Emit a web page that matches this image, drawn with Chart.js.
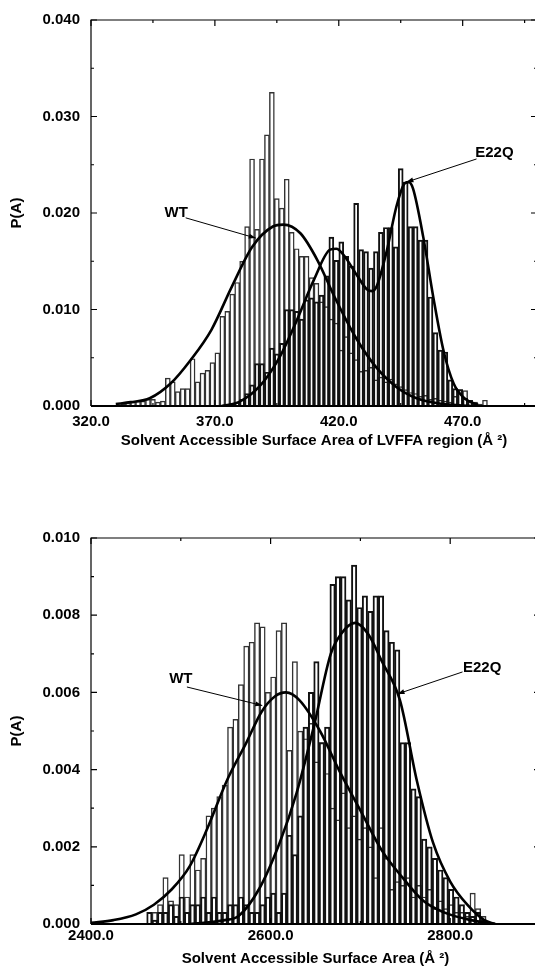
<!DOCTYPE html>
<html>
<head>
<meta charset="utf-8">
<title>SASA distributions, WT vs E22Q</title>
<script src="https://cdn.jsdelivr.net/npm/chart.js@4.4.1/dist/chart.umd.min.js"></script>
<style>
  html, body { margin: 0; padding: 0; background: #fff; width: 535px; height: 967px; overflow: hidden; position: relative; }
  canvas { position: absolute; left: 0; }
  #sasaTop { top: 0; }
  #sasaBottom { top: 518px; }
</style>
</head>
<body>
<canvas id="sasaTop" width="545" height="452"></canvas>
<canvas id="sasaBottom" width="545" height="450"></canvas>
<script>
// ---- top panel: SASA of the LVFFA region (2 A bins) ----
const binsTop = [329, 331, 333, 335, 337, 339, 341, 343, 345, 347, 349, 351, 353, 355, 357, 359, 361, 363, 365, 367,
  369, 371, 373, 375, 377, 379, 381, 383, 385, 387, 389, 391, 393, 395, 397, 399, 401, 403, 405, 407,
  409, 411, 413, 415, 417, 419, 421, 423, 425, 427, 429, 431, 433, 435, 437, 439, 441, 443, 445, 447,
  449, 451, 453, 455, 457, 459, 461, 463, 465, 467, 469, 471, 473, 475, 477, 479, 481];
const wtTop = [0, 0.0001, 0.0002, 0.0003, 0.0004, 0.0005, 0.0005, 0.0007, 0.0007, 0.0004, 0.0005, 0.0029, 0.0025, 0.0015, 0.0018, 0.0018, 0.0049, 0.0025, 0.0034, 0.0037,
  0.0045, 0.0055, 0.0093, 0.0098, 0.0116, 0.0128, 0.0150, 0.0186, 0.0256, 0.0183, 0.0256, 0.0281, 0.0325, 0.0215, 0.0205, 0.0235, 0.0180, 0.0163, 0.0155, 0.0155,
  0.0133, 0.0127, 0.0108, 0.0103, 0.0090, 0.0086, 0.0058, 0.0072, 0.0055, 0.0048, 0.0036, 0.0037, 0.0040, 0.0027, 0.0030, 0.0025, 0.0028, 0.0023, 0.0020, 0.0017,
  0.0014, 0.0013, 0.0010, 0.0011, 0.0007, 0.0008, 0.0006, 0.0005, 0.0004, 0.0010, 0.0017, 0.0016, 0.0006, 0.0004, 0.0002, 0.0006, 0];
const e22qTop = [0, 0, 0, 0, 0, 0, 0, 0, 0, 0, 0, 0, 0, 0, 0, 0, 0, 0, 0, 0,
  0, 0, 0, 0.0001, 0.0003, 0.0004, 0.0007, 0.0013, 0.0022, 0.0044, 0.0044, 0.0035, 0.0060, 0.0054, 0.0065, 0.0100, 0.0100, 0.0098, 0.0090, 0.0110,
  0.0112, 0.0108, 0.0115, 0.0135, 0.0175, 0.0151, 0.0170, 0.0155, 0.0145, 0.0210, 0.0162, 0.0160, 0.0143, 0.0160, 0.0180, 0.0185, 0.0185, 0.0165, 0.0246, 0.0232,
  0.0186, 0.0186, 0.0172, 0.0172, 0.0113, 0.0076, 0.0058, 0.0056, 0.0027, 0.0018, 0.0017, 0.0008, 0.0006, 0.0003, 0.0001, 0, 0];
// fitted curves as [A, P]
const wtFitTop = [[330, 0.0002], [336, 0.0004], [343.7, 0.0008], [352, 0.0023], [360.3, 0.0048], [368.6, 0.0079], [376.9, 0.0124],
  [385.1, 0.0165], [393.4, 0.0186], [397.6, 0.0188], [404.5, 0.0179], [411.4, 0.0151], [418.3, 0.0113], [426.6, 0.0072],
  [434.8, 0.0041], [443.1, 0.0020], [451.4, 0.0008], [462.4, 0.0002], [473.5, 0]];
const e22qFitTop = [[372.7, 0], [379.6, 0.0004], [387.9, 0.0020], [396.2, 0.0051], [403.1, 0.0089], [410, 0.0131], [416.5, 0.0162],
  [419, 0.0163], [421.8, 0.0157], [427.2, 0.0136], [431.3, 0.0121], [433.5, 0.0119], [435.3, 0.0124], [439.3, 0.0160],
  [443.4, 0.0208], [446.7, 0.0231], [448.3, 0.0232], [450, 0.0225], [454.1, 0.0175], [458.2, 0.0112], [462.3, 0.0057],
  [466.4, 0.0023], [470.7, 0.0008], [476.2, 0.0001]];
const xMajorTop = [320, 370, 420, 470];
const xMinorTop = [345, 395, 445, 495];
const yMajorTop = [0, 0.01, 0.02, 0.03, 0.04];
const yMinorTop = [0.005, 0.015, 0.025, 0.035];

// ---- bottom panel: total SASA (6 A bins) ----
const binsBot = [2465, 2471, 2477, 2483, 2489, 2495, 2501, 2507, 2513, 2519, 2525, 2531, 2537, 2543, 2549, 2555,
  2561, 2567, 2573, 2579, 2585, 2591, 2597, 2603, 2609, 2615, 2621, 2627, 2633, 2639, 2645, 2651,
  2657, 2663, 2669, 2675, 2681, 2687, 2693, 2699, 2705, 2711, 2717, 2723, 2729, 2735, 2741, 2747,
  2753, 2759, 2765, 2771, 2777, 2783, 2789, 2795, 2801, 2807, 2813, 2819, 2825, 2831, 2837, 2843];
const wtBot = [0, 0.0003, 0.0005, 0.0012, 0.0006, 0.0005, 0.0018, 0.0007, 0.0018, 0.0014, 0.0017, 0.0028, 0.0030, 0.0033, 0.0036, 0.0051,
  0.0053, 0.0062, 0.0072, 0.0073, 0.0078, 0.0077, 0.0060, 0.0064, 0.0076, 0.0078, 0.0045, 0.0068, 0.0050, 0.0048, 0.0052, 0.0042,
  0.0047, 0.0039, 0.0030, 0.0027, 0.0034, 0.0025, 0.0028, 0.0022, 0.0025, 0.0020, 0.0012, 0.0025, 0.0017, 0.0009, 0.0011, 0.0010,
  0.0012, 0.0007, 0.0010, 0.0007, 0.0009, 0.0004, 0.0006, 0.0004, 0.0005, 0.0003, 0.0003, 0.0002, 0.0008, 0.0004, 0.0002, 0];
const e22qBot = [0.0003, 0.0001, 0.0003, 0.0003, 0.0005, 0.0002, 0.0007, 0.0003, 0.0005, 0.0005, 0.0007, 0.0003, 0.0007, 0.0003, 0.0003, 0.0005,
  0.0005, 0.0007, 0.0005, 0.0003, 0.0003, 0.0005, 0.0007, 0.0008, 0.0003, 0.0008, 0.0023, 0.0018, 0.0028, 0.0051, 0.0060, 0.0068,
  0.0047, 0.0051, 0.0088, 0.0090, 0.0090, 0.0084, 0.0093, 0.0082, 0.0085, 0.0081, 0.0085, 0.0085, 0.0076, 0.0073, 0.0071, 0.0047,
  0.0047, 0.0035, 0.0033, 0.0022, 0.0020, 0.0017, 0.0014, 0.0012, 0.0009, 0.0007, 0.0005, 0.0003, 0.0002, 0.0003, 0.0001, 0];
const wtFitBot = [[2400, 0.00003], [2425, 0.0001], [2450, 0.00025], [2470, 0.0005], [2490, 0.0009], [2510, 0.0015], [2530, 0.0025],
  [2551, 0.0037], [2573, 0.0047], [2590, 0.0055], [2605, 0.0059], [2617, 0.0060], [2632, 0.0058], [2655, 0.0050], [2678, 0.0039],
  [2701, 0.0029], [2724, 0.0019], [2747, 0.0012], [2770, 0.0006], [2793, 0.0003], [2823, 0.0001], [2850, 0]];
const e22qFitBot = [[2510, 0], [2549, 0.0001], [2564, 0.0002], [2587, 0.0009], [2610, 0.0021], [2629, 0.0034], [2648, 0.0051],
  [2667, 0.0070], [2678, 0.0075], [2694, 0.0078], [2709, 0.0075], [2724, 0.0068], [2744, 0.0058], [2763, 0.0037], [2781, 0.0021],
  [2800, 0.0011], [2819, 0.0005], [2838, 0.0001], [2850, 0]];
const xMajorBot = [2400, 2600, 2800];
const xMinorBot = [2500, 2700];
const yMajorBot = [0, 0.002, 0.004, 0.006, 0.008, 0.010];
const yMinorBot = [0.001, 0.003, 0.005, 0.007, 0.009];

// callout labels with their arrows, in data units
const notesTop = [
  { label: 'WT', at: [354.4, 0.0200], from: [358.2, 0.0195], to: [386.5, 0.0174] },
  { label: 'E22Q', at: [482.8, 0.0262], from: [475.6, 0.0256], to: [447.3, 0.0232] }
];
const notesBot = [
  { label: 'WT', at: [2500, 0.00636], from: [2506.8, 0.00614], to: [2590.7, 0.00566] },
  { label: 'E22Q', at: [2835.6, 0.00663], from: [2813.7, 0.00653], to: [2741.3, 0.00596] }
];

const FONT = '"Liberation Sans", Arial, Helvetica, sans-serif';
Chart.defaults.font.family = FONT;
Chart.defaults.color = '#000';

// frame, inward tick marks and the WT / E22Q callouts
function framePlugin(p) {
  return {
    id: 'frame',
    afterDraw(chart) {
      const { ctx, chartArea: a, scales: { x, y } } = chart;
      ctx.save();
      ctx.strokeStyle = '#000';
      ctx.lineWidth = 1.2;
      ctx.beginPath();
      ctx.moveTo(a.left, a.bottom);
      ctx.lineTo(a.left, a.top);
      ctx.lineTo(a.right, a.top);
      ctx.lineTo(a.right, a.bottom);
      ctx.stroke();
      ctx.lineWidth = 2;
      ctx.beginPath();
      ctx.moveTo(a.left, a.bottom);
      ctx.lineTo(a.right, a.bottom);
      ctx.stroke();

      ctx.lineWidth = 1.2;
      const xt = (vals, len) => vals.forEach(v => {
        const px = x.getPixelForValue(v);
        ctx.beginPath();
        ctx.moveTo(px, a.bottom); ctx.lineTo(px, a.bottom - len);
        ctx.moveTo(px, a.top); ctx.lineTo(px, a.top + len);
        ctx.stroke();
      });
      const yt = (vals, len) => vals.forEach(v => {
        const py = y.getPixelForValue(v);
        ctx.beginPath();
        ctx.moveTo(a.left, py); ctx.lineTo(a.left + len, py);
        ctx.moveTo(a.right, py); ctx.lineTo(a.right - len, py);
        ctx.stroke();
      });
      xt(p.xMajor, 6); xt(p.xMinor, 3);
      yt(p.yMajor, 6); yt(p.yMinor, 3);

      ctx.font = 'bold 15px ' + FONT;
      ctx.fillStyle = '#000';
      ctx.textAlign = 'center';
      ctx.textBaseline = 'middle';
      ctx.lineWidth = 1;
      p.notes.forEach(n => {
        ctx.fillText(n.label, x.getPixelForValue(n.at[0]), y.getPixelForValue(n.at[1]));
        const x1 = x.getPixelForValue(n.from[0]), y1 = y.getPixelForValue(n.from[1]);
        const x2 = x.getPixelForValue(n.to[0]), y2 = y.getPixelForValue(n.to[1]);
        ctx.beginPath();
        ctx.moveTo(x1, y1); ctx.lineTo(x2, y2);
        ctx.stroke();
        const ang = Math.atan2(y2 - y1, x2 - x1);
        ctx.beginPath();
        ctx.moveTo(x2, y2);
        ctx.lineTo(x2 - 7 * Math.cos(ang) + 2.5 * Math.sin(ang), y2 - 7 * Math.sin(ang) - 2.5 * Math.cos(ang));
        ctx.lineTo(x2 - 7 * Math.cos(ang) - 2.5 * Math.sin(ang), y2 - 7 * Math.sin(ang) + 2.5 * Math.cos(ang));
        ctx.closePath();
        ctx.fill();
      });
      ctx.restore();
    }
  };
}

function histPanel(id, p) {
  const canvas = document.getElementById(id);
  if (!canvas) return;
  const ctx = canvas.getContext('2d');
  const pts = (xs, ys) => xs.map((v, i) => ({ x: v, y: ys[i] }));
  const fit = arr => arr.map(([v, w]) => ({ x: v, y: w }));
  const barBase = {
    type: 'bar', grouped: false, barPercentage: 1, categoryPercentage: 1,
    backgroundColor: 'rgba(0,0,0,0)', borderSkipped: 'start'
  };
  const lineBase = {
    type: 'line', borderColor: '#000', borderWidth: 2.6, pointRadius: 0,
    fill: false, cubicInterpolationMode: 'monotone', order: 0
  };
  const tickFont = { size: 15, weight: 'bold' };

  return new Chart(ctx, {
    type: 'bar',
    data: {
      datasets: [
        { ...lineBase, label: 'WT fit', data: fit(p.wtFit) },
        { ...lineBase, label: 'E22Q fit', data: fit(p.mutFit) },
        { ...barBase, label: 'E22Q', data: pts(p.bins, p.mut), borderColor: '#111', borderWidth: 1.3, order: 1 },
        { ...barBase, label: 'WT', data: pts(p.bins, p.wt), borderColor: '#333', borderWidth: 0.8, order: 2 }
      ]
    },
    options: {
      responsive: false,
      animation: false,
      devicePixelRatio: 1,
      layout: { padding: { top: 20, right: p.padRight, left: 0, bottom: 0 } },
      plugins: { legend: { display: false }, tooltip: { enabled: false } },
      scales: {
        x: {
          type: 'linear', min: p.xMin, max: p.xMax, offset: false,
          grid: { display: false, drawTicks: false }, border: { display: false },
          afterBuildTicks: s => { s.ticks = p.xMajor.map(v => ({ value: v })); },
          afterFit: s => { s.height = p.xAxisH; },
          ticks: { padding: p.xTickPad, maxRotation: 0, autoSkip: false, font: tickFont, callback: v => v.toFixed(1) },
          title: { display: true, text: p.xTitle, font: tickFont, padding: { top: 0, bottom: p.xTitlePad } }
        },
        y: {
          type: 'linear', min: 0, max: p.yMax,
          grid: { display: false, drawTicks: false }, border: { display: false },
          afterBuildTicks: s => { s.ticks = p.yMajor.map(v => ({ value: v })); },
          afterFit: s => { s.width = 91; },
          ticks: { padding: 11, autoSkip: false, font: tickFont, callback: v => v.toFixed(3) },
          title: { display: true, text: 'P(A)', font: tickFont, padding: { top: 8, bottom: 0 } }
        }
      }
    },
    plugins: [framePlugin(p)]
  });
}

histPanel('sasaTop', {
  bins: binsTop, wt: wtTop, mut: e22qTop, wtFit: wtFitTop, mutFit: e22qFitTop,
  xMin: 320, xMax: 500, yMax: 0.04,
  xMajor: xMajorTop, xMinor: xMinorTop, yMajor: yMajorTop, yMinor: yMinorTop,
  notes: notesTop, padRight: 8, xAxisH: 46, xTickPad: 7, xTitlePad: 2,
  xTitle: 'Solvent Accessible Surface Area of LVFFA region (Å ²)'
});

histPanel('sasaBottom', {
  bins: binsBot, wt: wtBot, mut: e22qBot, wtFit: wtFitBot, mutFit: e22qFitBot,
  xMin: 2400, xMax: 2900, yMax: 0.010,
  xMajor: xMajorBot, xMinor: xMinorBot, yMajor: yMajorBot, yMinor: yMinorBot,
  notes: notesBot, padRight: 5, xAxisH: 44, xTickPad: 3, xTitlePad: 0,
  xTitle: 'Solvent Accessible Surface Area (Å ²)'
});
</script>
</body>
</html>
